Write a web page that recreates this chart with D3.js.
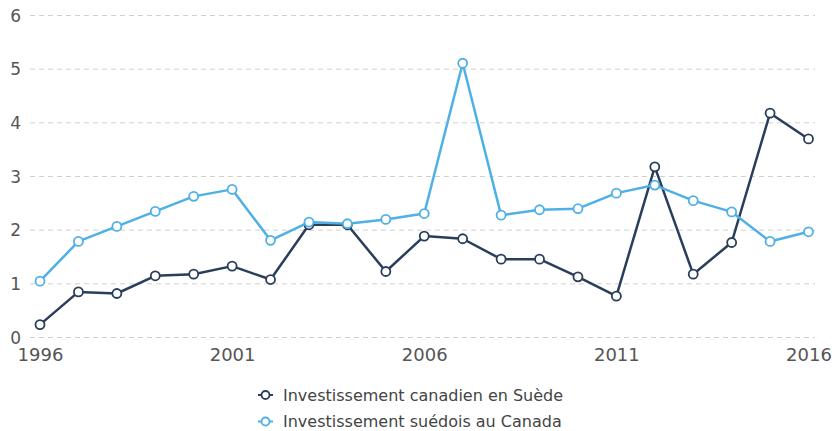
<!DOCTYPE html>
<html><head><meta charset="utf-8">
<script src="https://cdn.jsdelivr.net/npm/d3@7"></script>
<style>html,body{margin:0;padding:0;background:#fff;}svg{display:block;font-family:"DejaVu Sans",sans-serif;}</style>
</head><body>
<svg id="chart" width="835" height="431"></svg>
<script>
const years = [1996,1997,1998,1999,2000,2001,2002,2003,2004,2005,2006,2007,2008,2009,2010,2011,2012,2013,2014,2015,2016];
const canadianInSweden = [0.24,0.85,0.82,1.15,1.18,1.33,1.08,2.10,2.10,1.23,1.89,1.84,1.46,1.46,1.13,0.77,3.18,1.18,1.77,4.18,3.70];
const swedishInCanada = [1.05,1.79,2.07,2.35,2.63,2.76,1.81,2.15,2.12,2.20,2.31,5.11,2.28,2.38,2.40,2.69,2.84,2.55,2.34,1.79,1.97];
const seriesNames = ["Investissement canadien en Suède","Investissement suédois au Canada"];
const seriesColors = ["#2a3d5a","#4fb0e6"];
const yTicks = [0,1,2,3,4,5,6];
const xTicks = [1996,2001,2006,2011,2016];

const svg = d3.select("#chart");
const x = d3.scaleLinear().domain([1996,2016]).range([40,808.5]);
const y = d3.scaleLinear().domain([0,6]).range([337.5,15.5]);

// grid
svg.append("g").selectAll("line").data(yTicks).join("line")
  .attr("x1",30).attr("x2",815)
  .attr("y1",d=>y(d)).attr("y2",d=>y(d))
  .attr("stroke","#d0d0d0").attr("stroke-width",1).attr("stroke-dasharray","5,4");

// y labels
svg.append("g").selectAll("text").data(yTicks).join("text")
  .attr("x",21).attr("y",d=>y(d)+6)
  .attr("text-anchor","end").attr("font-size",17).attr("fill","#555")
  .text(d=>d);

// x axis labels
const xAxis = d3.axisBottom(x).tickValues(xTicks).tickFormat(d3.format("d")).tickSize(0).tickPadding(7);
const gx = svg.append("g").attr("transform","translate(0,341)").call(xAxis);
gx.select(".domain").remove();
gx.selectAll("text").attr("font-size",18).attr("fill","#555").attr("font-family","DejaVu Sans, sans-serif");

const data = [canadianInSweden, swedishInCanada];
const line = d3.line().x((d,i)=>x(years[i])).y(d=>y(d));
data.forEach((vals,k)=>{
  const g = svg.append("g");
  g.append("path").datum(vals).attr("d",line)
    .attr("fill","none").attr("stroke",seriesColors[k]).attr("stroke-width",2.5).attr("stroke-linejoin","round");
  g.selectAll("circle").data(vals).join("circle")
    .attr("cx",(d,i)=>x(years[i])).attr("cy",d=>y(d)).attr("r",4.5)
    .attr("fill","#fff").attr("stroke",seriesColors[k]).attr("stroke-width",1.8);
});

// legend
const leg = svg.append("g");
seriesNames.forEach((name,k)=>{
  const cy = 395 + k*26.5;
  leg.append("line").attr("x1",258).attr("x2",273).attr("y1",cy).attr("y2",cy)
    .attr("stroke",seriesColors[k]).attr("stroke-width",2);
  leg.append("circle").attr("cx",265.5).attr("cy",cy).attr("r",4)
    .attr("fill","#fff").attr("stroke",seriesColors[k]).attr("stroke-width",1.8);
  leg.append("text").attr("x",283).attr("y",cy+5.5).attr("font-size",16).attr("fill","#444").text(name);
});
</script>
</body></html>
